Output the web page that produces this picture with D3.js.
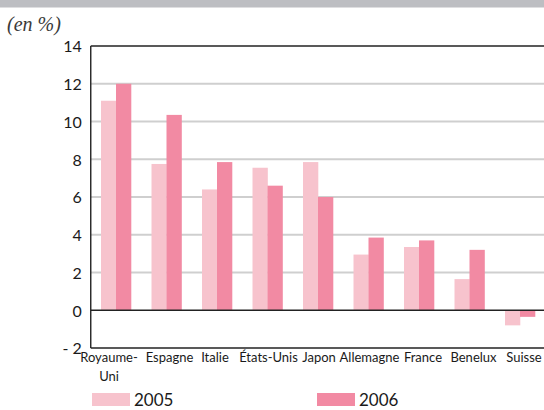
<!DOCTYPE html>
<html>
<head>
<meta charset="utf-8">
<script src="https://cdn.jsdelivr.net/npm/d3@7"></script>
<style>
  html, body { margin: 0; padding: 0; background: #fff; }
  svg { display: block; }
  text { font-family: Lato, "Open Sans", sans-serif; fill: #1a1a1a; }
</style>
</head>
<body>
<script>
// Variation annuelle par pays (en %)
const categories = ["Royaume-Uni", "Espagne", "Italie", "États-Unis", "Japon", "Allemagne", "France", "Benelux", "Suisse"];
const categoryLines = [["Royaume-", "Uni"], ["Espagne"], ["Italie"], ["États-Unis"], ["Japon"], ["Allemagne"], ["France"], ["Benelux"], ["Suisse"]];
const seriesNames = ["2005", "2006"];
const values2005 = [11.1, 7.75, 6.4, 7.55, 7.85, 2.95, 3.35, 1.65, -0.8];
const values2006 = [12.0, 10.35, 7.85, 6.6, 6.0, 3.85, 3.7, 3.2, -0.35];
const yTicks = [-2, 0, 2, 4, 6, 8, 10, 12, 14];
const colors = ["#f7c3cd", "#f28aa3"];

const W = 544, H = 410;
const margin = { left: 90.75, top: 46, right: -1.25, bottom: 62 };
const plotW = W - margin.left - margin.right;
const plotH = H - margin.top - margin.bottom;

const svg = d3.select("body").append("svg").attr("width", W).attr("height", H);

// top band
svg.append("rect").attr("x", 0).attr("y", 0).attr("width", W).attr("height", 7.5).attr("fill", "#bdbec2");

svg.append("text").attr("x", 7).attr("y", 31)
  .style("font-family", "'Liberation Serif', serif")
  .style("font-style", "italic").style("font-size", "20px").style("fill", "#3a3a3a")
  .text("(en %)");

const x = d3.scaleBand().domain(categories).range([0, plotW]).paddingInner(0.406).paddingOuter(0.203);
const xs = d3.scaleBand().domain(seriesNames).range([0, x.bandwidth()]);
const y = d3.scaleLinear().domain([-2, 14]).range([plotH, 0]);

const g = svg.append("g").attr("transform", `translate(${margin.left},${margin.top})`);

// gridlines
g.append("g").selectAll("line").data(yTicks.filter(t => t !== 0 && t !== -2 && t !== 14)).join("line")
  .attr("x1", 0).attr("x2", plotW)
  .attr("y1", d => y(d)).attr("y2", d => y(d))
  .attr("stroke", "#cfcfcf").attr("stroke-width", 2);

// bars
const series = [values2005, values2006];
const groups = g.append("g").selectAll("g").data(categories).join("g")
  .attr("transform", d => `translate(${x(d)},0)`);
groups.selectAll("rect").data((d, i) => seriesNames.map((s, k) => ({ s, v: series[k][i], k })))
  .join("rect")
  .attr("x", d => xs(d.s))
  .attr("width", xs.bandwidth() + 0.3)
  .attr("y", d => y(Math.max(0, d.v)))
  .attr("height", d => Math.abs(y(d.v) - y(0)))
  .attr("fill", d => colors[d.k]);

// frame and zero line
g.append("line").attr("x1", 0).attr("x2", plotW).attr("y1", y(14)).attr("y2", y(14)).attr("stroke", "#222").attr("stroke-width", 1.4);
g.append("line").attr("x1", 0).attr("x2", plotW).attr("y1", y(-2)).attr("y2", y(-2)).attr("stroke", "#222").attr("stroke-width", 1.4);
g.append("line").attr("x1", 0).attr("x2", plotW).attr("y1", y(0)).attr("y2", y(0)).attr("stroke", "#222").attr("stroke-width", 1.6);
g.append("line").attr("x1", 0).attr("x2", 0).attr("y1", y(14)).attr("y2", y(-2)).attr("stroke", "#222").attr("stroke-width", 1.4);

// y axis labels
const yAxis = d3.axisLeft(y).tickValues(yTicks).tickSize(0).tickPadding(9)
  .tickFormat(d => d < 0 ? "- " + Math.abs(d) : String(d));
const ya = g.append("g").call(yAxis);
ya.select(".domain").remove();
ya.selectAll("text").style("font-size", "16px").style("font-family", "Lato, sans-serif").attr("fill", "#1a1a1a").attr("dy", "0.36em");

// category labels
const labelShift = [-7, 3, -2, 1, 1, 1, 4, 4, 4];
const xl = g.append("g").selectAll("text").data(categories).join("text")
  .attr("x", (d, i) => x(d) + x.bandwidth() / 2 + labelShift[i])
  .attr("y", y(-2) + 14)
  .attr("text-anchor", "middle")
  .style("font-size", "13px");
xl.selectAll("tspan").data((d, i) => categoryLines[i]).join("tspan")
  .attr("x", function () { return d3.select(this.parentNode).attr("x"); })
  .attr("dy", (d, j) => j === 0 ? 0 : 19)
  .text(d => d);

// legend
const legendX = [92, 317];
const legend = svg.append("g").selectAll("g").data(seriesNames).join("g")
  .attr("transform", (d, i) => `translate(${legendX[i]},393)`);
legend.append("rect").attr("width", 38).attr("height", 13).attr("fill", (d, i) => colors[i]);
legend.append("text").attr("x", 42).attr("y", 12.5).style("font-size", "17px").text(d => d);
</script>
</body>
</html>
